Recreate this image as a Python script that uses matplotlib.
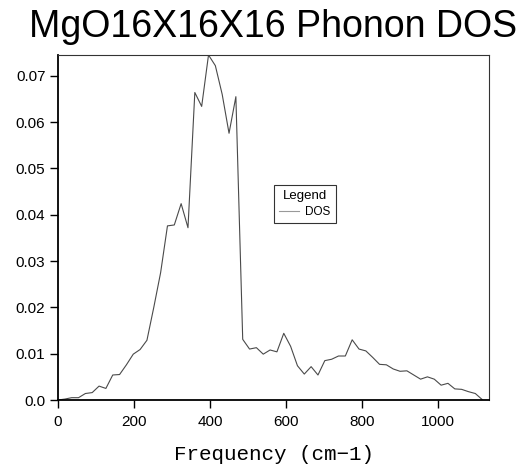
import matplotlib
matplotlib.use("Agg")
import matplotlib.pyplot as plt

freq = [0, 18, 36, 54, 72, 90, 108, 126, 144, 162, 180, 198, 216, 234, 252, 270,
        288, 306, 324, 342, 360, 378, 396, 414, 432, 450, 468, 486, 504, 522, 540,
        558, 576, 594, 612, 630, 648, 666, 684, 702, 720, 738, 756, 774, 792, 810,
        828, 846, 864, 882, 900, 918, 936, 954, 972, 990, 1008, 1026, 1044, 1062,
        1080, 1098, 1116]
dos = [0.0, 0.0002, 0.0005, 0.0005, 0.0014, 0.0016, 0.0030, 0.0025, 0.0054, 0.0055,
       0.0076, 0.0099, 0.0109, 0.0129, 0.0200, 0.0275, 0.0376, 0.0378, 0.0424, 0.0372,
       0.0664, 0.0634, 0.0745, 0.0722, 0.0660, 0.0576, 0.0655, 0.0131, 0.0110, 0.0113,
       0.0099, 0.0108, 0.0104, 0.0144, 0.0116, 0.0074, 0.0056, 0.0072, 0.0054, 0.0085,
       0.0088, 0.0095, 0.0095, 0.0130, 0.0110, 0.0106, 0.0092, 0.0077, 0.0076, 0.0067,
       0.0062, 0.0063, 0.0054, 0.0045, 0.0050, 0.0045, 0.0032, 0.0036, 0.0024, 0.0023,
       0.0018, 0.0014, 0.0001]

xticks = [0, 200, 400, 600, 800, 1000]
xtick_labels = ["0", "200", "400", "600", "800", "1000"]
yticks = [0.0, 0.01, 0.02, 0.03, 0.04, 0.05, 0.06, 0.07]
ytick_labels = ["0.0", "0.01", "0.02", "0.03", "0.04", "0.05", "0.06", "0.07"]

title = "MgO16X16X16 Phonon DOS"
xlabel = "Frequency (cm\u22121)"
series_name = "DOS"
legend_title = "Legend"

plt.rcParams['font.family'] = ['Liberation Sans', 'DejaVu Sans']

fig = plt.figure(figsize=(5.22, 4.66), dpi=100)
ax = fig.add_axes([58/522, 66/466, 431/522, 345/466])

ax.plot(freq, dos, color="#4a4a4a", linewidth=0.8, label=series_name)

ax.set_xlim(0, 1134)
ax.set_ylim(0, max(dos))
ax.set_xticks(xticks)
ax.set_xticklabels(xtick_labels)
ax.set_yticks(yticks)
ax.set_yticklabels(ytick_labels)
ax.tick_params(axis='both', direction='out', length=6, width=1.0, labelsize=11,
               colors='black')
ax.tick_params(axis='x', pad=5)
ax.tick_params(axis='y', pad=3)

for side in ['left', 'bottom']:
    ax.spines[side].set_linewidth(1.3)
    ax.spines[side].set_color('black')
for side in ['top', 'right']:
    ax.spines[side].set_linewidth(0.8)
    ax.spines[side].set_color('#333333')

ax.set_title(title, fontsize=27, pad=13)
ax.set_xlabel(xlabel, fontfamily=['Liberation Mono', 'DejaVu Sans Mono'], fontsize=15, labelpad=11)

leg = ax.legend(title=legend_title, loc='upper left', bbox_to_anchor=(0.501, 0.623),
                fontsize=8.5, title_fontsize=9.5, frameon=True, fancybox=False,
                edgecolor='black', handlelength=1.7, borderpad=0.45,
                handletextpad=0.5, labelspacing=0.3, borderaxespad=0.0)
leg.get_frame().set_linewidth(0.8)
leg.get_lines()[0].set_color('#999999')

fig.savefig("out.png", dpi=100)
